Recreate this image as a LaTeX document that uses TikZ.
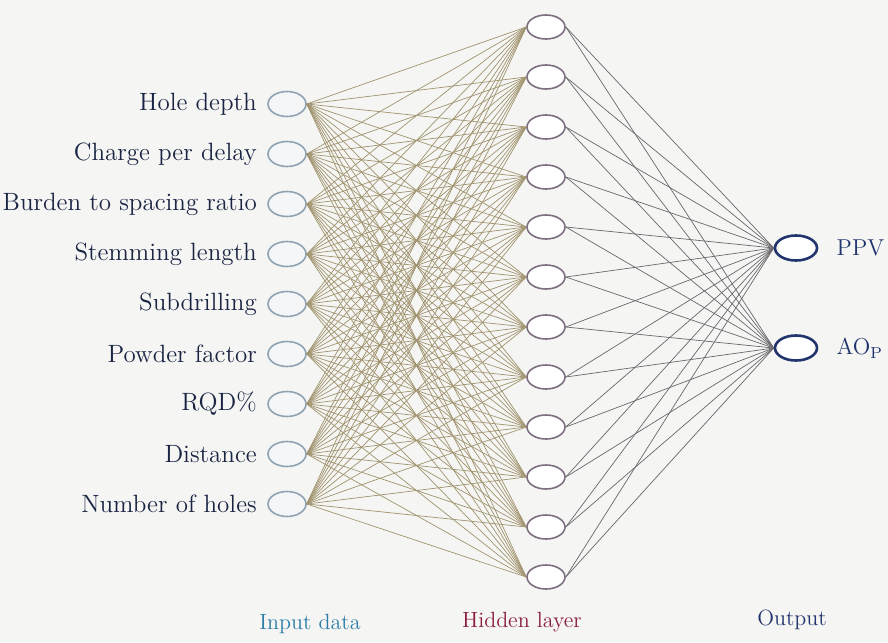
\documentclass[tikz,border=0pt]{standalone}
\usetikzlibrary{shapes.geometric,positioning}
\definecolor{labnavy}{HTML}{1A2544}
\definecolor{inblue}{HTML}{2B7DA6}
\definecolor{hidred}{HTML}{8A1C3C}
\definecolor{outnavy}{HTML}{22346E}
\definecolor{inring}{HTML}{8FA3B3}
\definecolor{hidring}{HTML}{7D6E80}
\definecolor{wirein}{HTML}{A0936E}
\definecolor{wireout}{HTML}{68686C}
\definecolor{paper}{HTML}{F5F5F3}
\tikzset{
  inunit/.style={ellipse, draw=inring, fill=white!90!inring, line width=0.8pt,
    minimum width=19pt, minimum height=12.5pt, inner sep=0pt},
  hidunit/.style={ellipse, draw=hidring, fill=white, line width=0.8pt,
    minimum width=19pt, minimum height=12pt, inner sep=0pt},
  outunit/.style={ellipse, draw=outnavy, fill=white, line width=1.3pt,
    minimum width=21pt, minimum height=12.5pt, inner sep=0pt},
  inlabel/.style={text=labnavy, font=\fontsize{12.5}{14}\selectfont, inner sep=1pt},
  outlabel/.style={text=outnavy, font=\fontsize{11.5}{14}\selectfont, inner sep=0pt},
  caption/.style={font=\fontsize{11}{13}\selectfont, inner sep=1pt},
  wire/.style={line width=0.35pt},
}
\begin{document}
\begin{tikzpicture}[x=0.5pt, y=-0.5pt] % {{{
\fill[paper] (0,0) rectangle (888,642);
\useasboundingbox (0,0) rectangle (888,642);
% Input layer {{{
\foreach \i/\txt in {1/Hole depth, 2/Charge per delay, 3/Burden to spacing ratio,
  4/Stemming length, 5/Subdrilling, 6/Powder factor, 7/RQD\%, 8/Distance,
  9/Number of holes}{
  \node[inunit] (in\i) at (287,{104+50*(\i-1)}) {};
  \node[inlabel, left=4pt of in\i] (inlab\i) {\txt};
}
% }}}
% Hidden layer {{{
\foreach \j in {1,...,12}
  \node[hidunit] (hid\j) at (546,{27+50*(\j-1)}) {};
% }}}
% Output layer {{{
\node[outunit] (out1) at (796,248) {};
\node[outlabel, right=9pt of out1] (outlab1) {PPV};
\node[outunit] (out2) at (796,348) {};
\node[outlabel, right=9pt of out2] (outlab2) {AO$_{\mathrm{P}}$};
% }}}
% Connections {{{
\foreach \i in {1,...,9}
  \foreach \j in {1,...,12}
    \draw[wire, wirein] (in\i.east) -- (hid\j.west);
\foreach \j in {1,...,12}
  \foreach \k in {1,2}
    \draw[wire, wireout] (hid\j.east) -- (out\k.west);
% }}}
% Captions
\node[caption, text=inblue] (capin) at (310,624) {Input data};
\node[caption, text=hidred] (caphid) at (522,622) {Hidden layer};
\node[caption, text=outnavy] (capout) at (792,620) {Output};
\end{tikzpicture} % }}}
\end{document}
